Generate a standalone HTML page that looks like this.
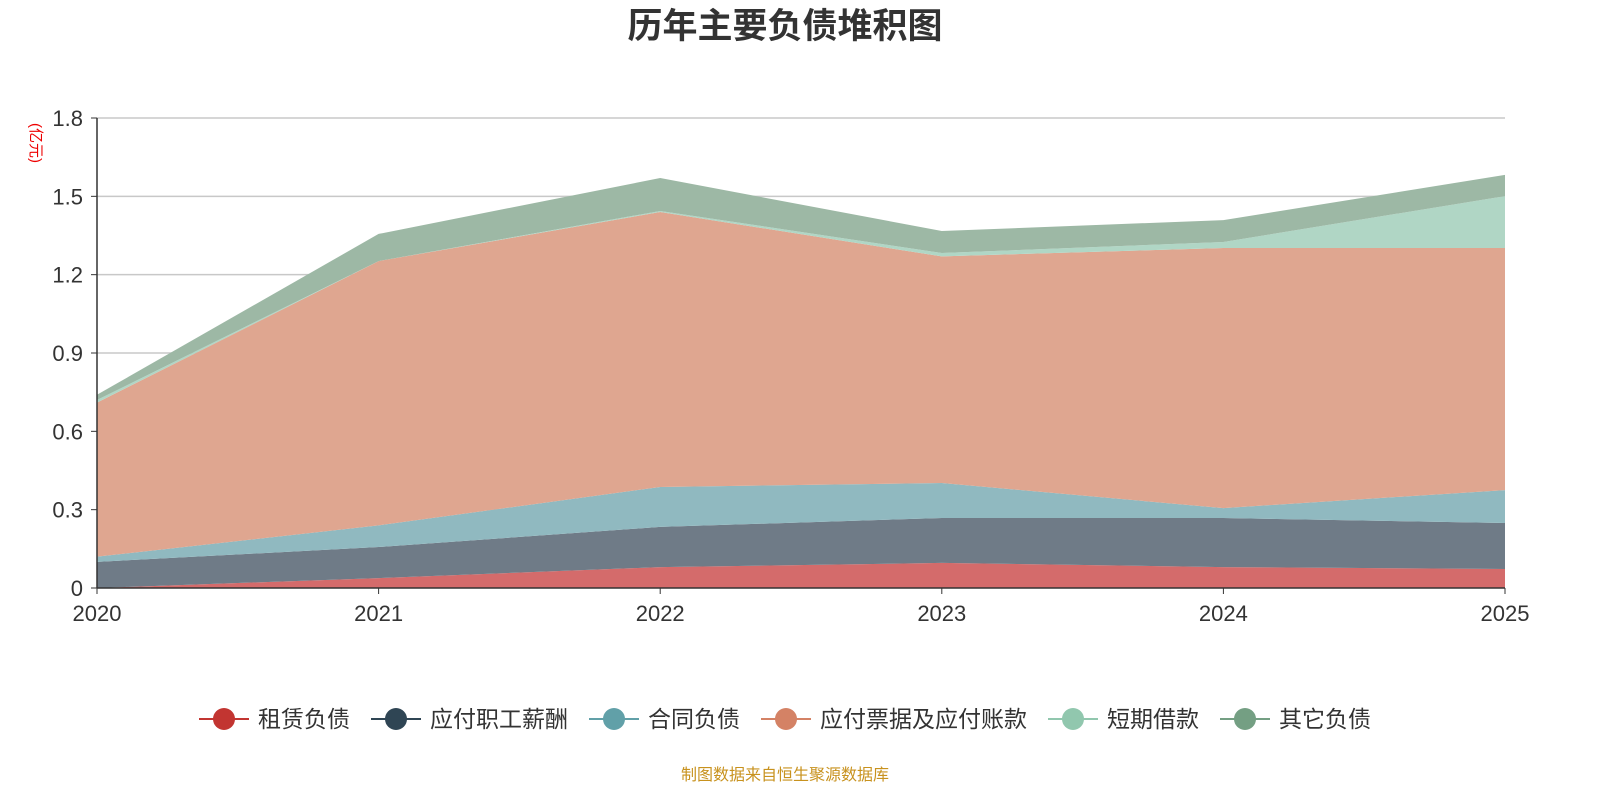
<!DOCTYPE html>
<html><head><meta charset="utf-8">
<style>
body{margin:0;background:#fff;font-family:"Liberation Sans","Noto Sans CJK SC",sans-serif;}
#wrap{position:relative;width:1600px;height:800px;}
</style></head>
<body>
<div id="wrap">
<svg id="chart" width="1600" height="800" xmlns="http://www.w3.org/2000/svg"></svg>
</div>
<script>
const years = ["2020","2021","2022","2023","2024","2025"];
const rent = [0, 0.038, 0.08, 0.096, 0.08, 0.073];
const staff = [0.10, 0.119, 0.154, 0.172, 0.188, 0.176];
const contract = [0.02, 0.083, 0.153, 0.134, 0.038, 0.126];
const payable = [0.59, 1.012, 1.053, 0.868, 0.996, 0.927];
const shortLoan = [0.01, 0, 0.004, 0.013, 0.023, 0.199];
const other = [0.02, 0.104, 0.126, 0.084, 0.084, 0.081];
const yTicks = [0, 0.3, 0.6, 0.9, 1.2, 1.5, 1.8];
const seriesNames = ["租赁负债","应付职工薪酬","合同负债","应付票据及应付账款","短期借款","其它负债"];

const NS="http://www.w3.org/2000/svg";
const svg=document.getElementById('chart');
const X0=97,X1=1505,Y0=588,Y1=118,YMAX=1.8;
const xs=i=>X0+(X1-X0)*i/(years.length-1);
const ys=v=>Y0-(Y0-Y1)*v/YMAX;
function mk(tag,attrs,parent){const e=document.createElementNS(NS,tag);for(const k in attrs)e.setAttribute(k,attrs[k]);(parent||svg).appendChild(e);return e;}

let t=mk('text',{x:785,y:38,'text-anchor':'middle','font-size':'35','font-weight':'bold',fill:'#333'});
t.textContent='历年主要负债堆积图';

yTicks.forEach(v=>{
  if(v>0){const g=mk('line',{x1:X0,x2:X1,y1:ys(v),y2:ys(v),stroke:'#c8c8c8','stroke-width':1.5});
  }
  const l=mk('text',{x:X0-14,y:ys(v)+8,'text-anchor':'end','font-size':'22',fill:'#333'});
  l.textContent=String(v);
  const tk=mk('line',{x1:X0-6,x2:X0,y1:ys(v),y2:ys(v),stroke:'#333'});
  
});
let u=mk('text',{x:31,y:143,'text-anchor':'middle','font-size':'15',fill:'#e00',transform:'rotate(90 31 143)'});
u.textContent='(亿元)';

const series=[rent,staff,contract,payable,shortLoan,other];
const fills=['#d46b6b','#6f7b87','#90b9c0','#dfa690','#b0d6c5','#9db8a5'];
const dots=['#c23531','#2f4554','#61a0a8','#d48265','#91c7ae','#749f83'];
const names=['area-rent','area-staff-pay','area-contract','area-payables','area-short-loan','area-other'];
let base=years.map(()=>0);
series.forEach((s,k)=>{
  const top=base.map((b,i)=>b+s[i]);
  let d='M'+years.map((_,i)=>xs(i)+','+ys(top[i])).join(' L');
  for(let i=years.length-1;i>=0;i--)d+=' L'+xs(i)+','+ys(base[i]);
  d+=' Z';
  const p=mk('path',{d:d,fill:fills[k],stroke:'none'});
  
  base=top;
});

let ax=mk('line',{x1:X0,x2:X1,y1:Y0,y2:Y0,stroke:'#333','stroke-width':1.5});

let ay=mk('line',{x1:X0,x2:X0,y1:Y1,y2:Y0,stroke:'#333','stroke-width':1.5});

years.forEach((y,i)=>{
  const tk=mk('line',{x1:xs(i),x2:xs(i),y1:Y0,y2:Y0+6,stroke:'#333'});
  
  const l=mk('text',{x:xs(i),y:621,'text-anchor':'middle','font-size':'22',fill:'#333'});
  l.textContent=y;
});

// legend
const lw=[];seriesNames.forEach(n=>lw.push(59+n.length*23+21));
let total=lw.reduce((a,b)=>a+b,0)-21;let lx=785-total/2;
seriesNames.forEach((n,k)=>{
  const g=mk('g',{});
  
  mk('line',{x1:lx,x2:lx+50,y1:719,y2:719,stroke:dots[k],'stroke-width':2},g);
  mk('circle',{cx:lx+25,cy:719,r:11,fill:dots[k]},g);
  const tx=mk('text',{x:lx+59,y:727,'font-size':'23',fill:'#333'},g);tx.textContent=n;
  lx+=lw[k];
});
let src=mk('text',{x:785,y:780,'text-anchor':'middle','font-size':'16',fill:'#c8921e'});
src.textContent='制图数据来自恒生聚源数据库';
</script>
</body></html>
